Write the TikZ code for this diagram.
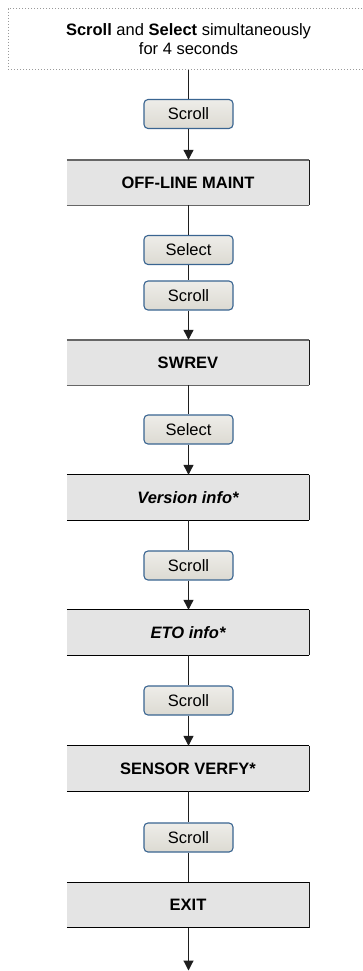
\documentclass[tikz,border=0pt]{standalone}
\usepackage{fontspec}
\setmainfont{Liberation Sans}
\usetikzlibrary{arrows.meta}
\definecolor{boxgray}{HTML}{E4E4E4}
\definecolor{btntop}{HTML}{EEEDE9}
\definecolor{btnbot}{HTML}{DCDAD2}
\definecolor{btnline}{HTML}{3A6591}
\definecolor{dotgray}{HTML}{9A9A9A}
\definecolor{conn}{HTML}{1E1E1E}
\tikzset{
  txt/.style={font=\fontsize{16.5}{19}\selectfont},
  mainbox/.style={txt, fill=boxgray, draw=none, minimum width=242, minimum height=45, inner sep=0pt, font=\fontsize{16.5}{19}\selectfont\bfseries},
  btn/.style={txt, rounded corners=4, top color=btntop, bottom color=btnbot, draw=btnline, line width=1.1pt, minimum width=89, minimum height=29, inner sep=0pt},
  topbox/.style={txt, draw=dotgray, dotted, line width=1pt, minimum width=361, minimum height=61, align=center, inner sep=0pt},
  ln/.style={draw=conn, line width=1.1pt},
  arr/.style={ln, -{Triangle[width=10, length=10]}},
  edgegray/.style={draw=black!60, line width=1.4pt},
  edgeblack/.style={draw=black, line width=1.1pt},
  edgeside/.style={draw=black!90, line width=1.1pt}
}
\begin{document}
\begin{tikzpicture}[x=1pt, y=-1pt]
\useasboundingbox (0,0) rectangle (363,971);
\clip (0,0) rectangle (363,971);
\fill[white] (0,0) rectangle (363,971);
\node[topbox] (top) at (188.5,39.5) {\textbf{Scroll} and \textbf{Select} simultaneously\\for 4 seconds};
\node[btn] (b1) at (188.5,114) {Scroll};
\node[mainbox] (m1) at (188,182.5) {OFF-LINE MAINT};
\node[btn] (b2) at (188.5,250) {Select};
\node[btn] (b3) at (188.5,295.5) {Scroll};
\node[mainbox] (m2) at (188,362.5) {SWREV};
\node[btn] (b4) at (188.5,429.5) {Select};
\node[mainbox] (m3) at (188,497.5) {\itshape Version info*};
\node[btn] (b5) at (188.5,565.5) {Scroll};
\node[mainbox] (m4) at (188,632.5) {\itshape ETO info*};
\node[btn] (b6) at (188.5,700.5) {Scroll};
\node[mainbox] (m5) at (188,768.5) {SENSOR VERFY*};
\node[btn] (b7) at (188.5,837.5) {Scroll};
\node[mainbox] (m6) at (188,905) {EXIT};
\coordinate (end) at (188.5,970.5);
\foreach \n in {m1,m2,m3,m4,m5,m6}
  \draw[edgeside] (\n.north east) -- (\n.south east);
\foreach \n in {m1,m2}
  \draw[edgegray] (\n.north west) -- (\n.north east) (\n.south west) -- (\n.south east);
\foreach \n in {m3,m4,m5,m6}
  \draw[edgeblack] (\n.north west) -- (\n.north east) (\n.south west) -- (\n.south east);
\draw[ln] (top.south -| b1) -- (b1.north);
\draw[arr] (b1.south) -- (b1.south |- m1.north);
\draw[ln] (m1.south -| b2) -- (b2.north);
\draw[ln] (b2.south) -- (b3.north);
\draw[arr] (b3.south) -- (b3.south |- m2.north);
\draw[ln] (m2.south -| b4) -- (b4.north);
\draw[arr] (b4.south) -- (b4.south |- m3.north);
\draw[ln] (m3.south -| b5) -- (b5.north);
\draw[arr] (b5.south) -- (b5.south |- m4.north);
\draw[ln] (m4.south -| b6) -- (b6.north);
\draw[arr] (b6.south) -- (b6.south |- m5.north);
\draw[ln] (m5.south -| b7) -- (b7.north);
\draw[ln] (b7.south) -- (b7.south |- m6.north);
\draw[arr] (m6.south -| end) -- (end);
\end{tikzpicture}
\end{document}
